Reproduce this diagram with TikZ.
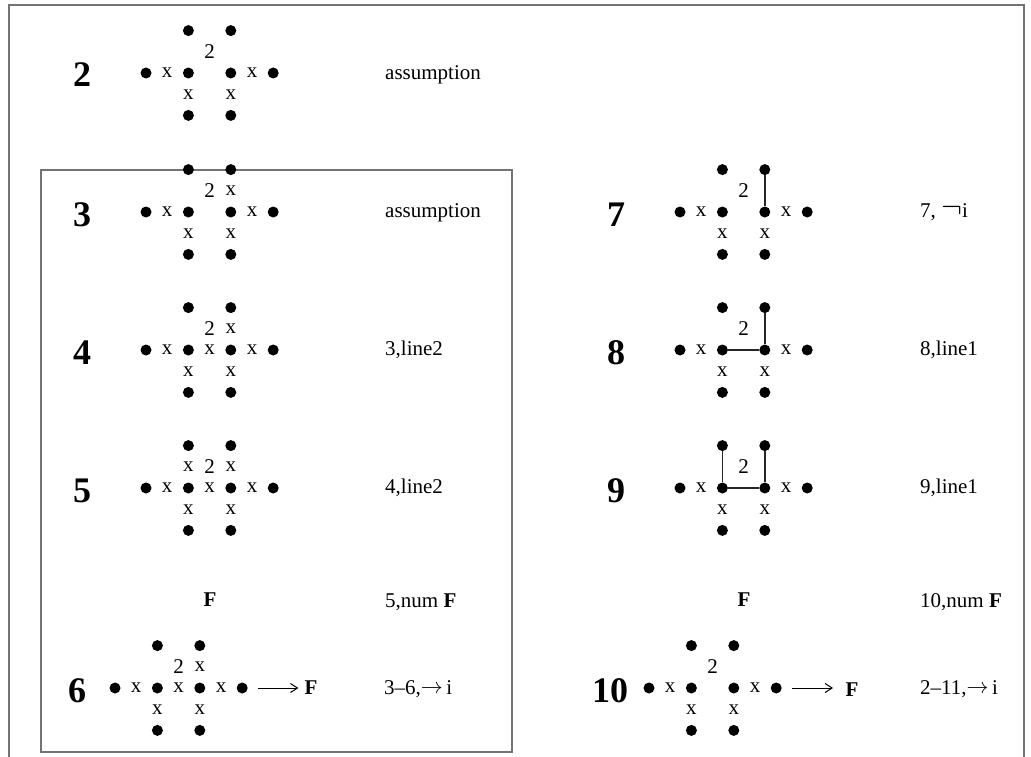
\RequirePackage{fix-cm}
\documentclass[tikz,border=0pt]{standalone}
\usepackage{fontspec}
\setmainfont{Liberation Serif}
\usetikzlibrary{arrows.meta}
\tikzset{
  dot/.style={circle,fill=black,inner sep=0pt,minimum size=11pt},
  sm/.style={inner sep=0pt,font=\fontsize{21}{25}\selectfont},
  bignum/.style={inner sep=0pt,anchor=base,font=\fontsize{36}{40}\selectfont\bfseries},
  lab/.style={inner sep=0pt,anchor=base west,font=\fontsize{21}{25}\selectfont},
  bfF/.style={inner sep=0pt,font=\fontsize{21}{25}\selectfont\bfseries},
  edge/.style={line width=1.5pt,black!85},
  frame/.style={line width=1.5pt,black!55},
  arr/.style={line width=1pt,-{Straight Barb[length=7pt,width=9pt]}}
}
\newcommand\bigarrow{\raisebox{1pt}{\resizebox{22pt}{!}{$\rightarrow$}}}
\newcommand\bigneg{\scalebox{1.5}{$\neg$}}
\def\gs{21.2}
% #1 prefix, #2 x of left dot, #3 y of middle row
\newcommand\dotgrid[3]{%
  \node[dot] (#1ta) at ({#2+2*\gs},{#3-2*\gs}) {};
  \node[dot] (#1tb) at ({#2+4*\gs},{#3-2*\gs}) {};
  \node[dot] (#1ma) at ({#2},{#3}) {};
  \node[dot] (#1mb) at ({#2+2*\gs},{#3}) {};
  \node[dot] (#1mc) at ({#2+4*\gs},{#3}) {};
  \node[dot] (#1md) at ({#2+6*\gs},{#3}) {};
  \node[dot] (#1ba) at ({#2+2*\gs},{#3+2*\gs}) {};
  \node[dot] (#1bb) at ({#2+4*\gs},{#3+2*\gs}) {};
  \node[sm] (#1two) at ({#2+3*\gs},{#3-\gs}) {2};
  \node[sm] (#1xl) at ({#2+\gs},{#3}) {x};
  \node[sm] (#1xr) at ({#2+5*\gs},{#3}) {x};
  \node[sm] (#1xbl) at ({#2+2*\gs},{#3+\gs}) {x};
  \node[sm] (#1xbr) at ({#2+4*\gs},{#3+\gs}) {x};
}
\newcommand\xat[5]{% #1 name, #2 x0, #3 ymid, #4 col, #5 row
  \node[sm] (#1) at ({#2+#4*\gs},{#3+#5*\gs}) {x};
}
\begin{document}
\begin{tikzpicture}[x=1pt,y=-1pt]
\useasboundingbox (0,0) rectangle (1031,757);
% frames
\draw[frame] (9,760) -- (9,5) -- (1024,5) -- (1024,760);
\draw[frame] (41,170) rectangle (512,752);

% row 2
\node[bignum] (n2) at (82,87) {2};
\dotgrid{g2}{146}{73}
\node[lab] (l2) at (385,80) {assumption};

% row 3
\node[bignum] (n3) at (82,226) {3};
\dotgrid{g3}{146}{212}
\xat{g3xt}{146}{212}{4}{-1}
\node[lab] (l3) at (385,217) {assumption};

% row 4
\node[bignum] (n4) at (82,364) {4};
\dotgrid{g4}{146}{350}
\xat{g4xt}{146}{350}{4}{-1}
\xat{g4xm}{146}{350}{3}{0}
\node[lab] (l4) at (385,355) {3,line2};

% row 5
\node[bignum] (n5) at (82,502) {5};
\dotgrid{g5}{146}{488}
\xat{g5xtl}{146}{488}{2}{-1}
\xat{g5xt}{146}{488}{4}{-1}
\xat{g5xm}{146}{488}{3}{0}
\node[lab] (l5) at (385,493) {4,line2};

% F row left
\node[bfF] (fL) at (210,600) {F};
\node[lab] (lF) at (385,607) {5,num \textbf{F}};

% row 6
\node[bignum] (n6) at (77,702) {6};
\dotgrid{g6}{115}{688}
\xat{g6xt}{115}{688}{4}{-1}
\xat{g6xm}{115}{688}{3}{0}
\node[bfF] (g6F) at (311,688) {F};
\coordinate (g6a) at (258,688);
\draw[arr] (g6a) -- (g6F.west) [shorten >=6pt];
\node[lab] (l6) at (384,694) {3–6,\bigarrow\,i};

% row 7
\node[bignum] (n7) at (616,226) {7};
\dotgrid{g7}{680}{212}
\draw[edge] (g7tb) -- (g7mc);
\node[lab] (l7) at (920,217) {7, \bigneg i};

% row 8
\node[bignum] (n8) at (616,364) {8};
\dotgrid{g8}{680}{350}
\draw[edge] (g8tb) -- (g8mc) -- (g8mb);
\node[lab] (l8) at (920,355) {8,line1};

% row 9
\node[bignum] (n9) at (616,502) {9};
\dotgrid{g9}{680}{488}
\draw[edge] (g9ta) -- (g9mb) -- (g9mc) -- (g9tb);
\node[lab] (l9) at (920,493) {9,line1};

% F row right
\node[bfF] (fR) at (744,600) {F};
\node[lab] (lFR) at (920,607) {10,num \textbf{F}};

% row 10
\node[bignum] (n10) at (610,702) {10};
\dotgrid{g10}{649}{688}
\node[bfF] (g10F) at (852,690) {F};
\coordinate (g10a) at (792,688);
\coordinate (g10b) at (833,688);
\draw[arr] (g10a) -- (g10b);
\node[lab] (l10) at (920,694) {2–11,\bigarrow\,i};
\end{tikzpicture}
\end{document}
